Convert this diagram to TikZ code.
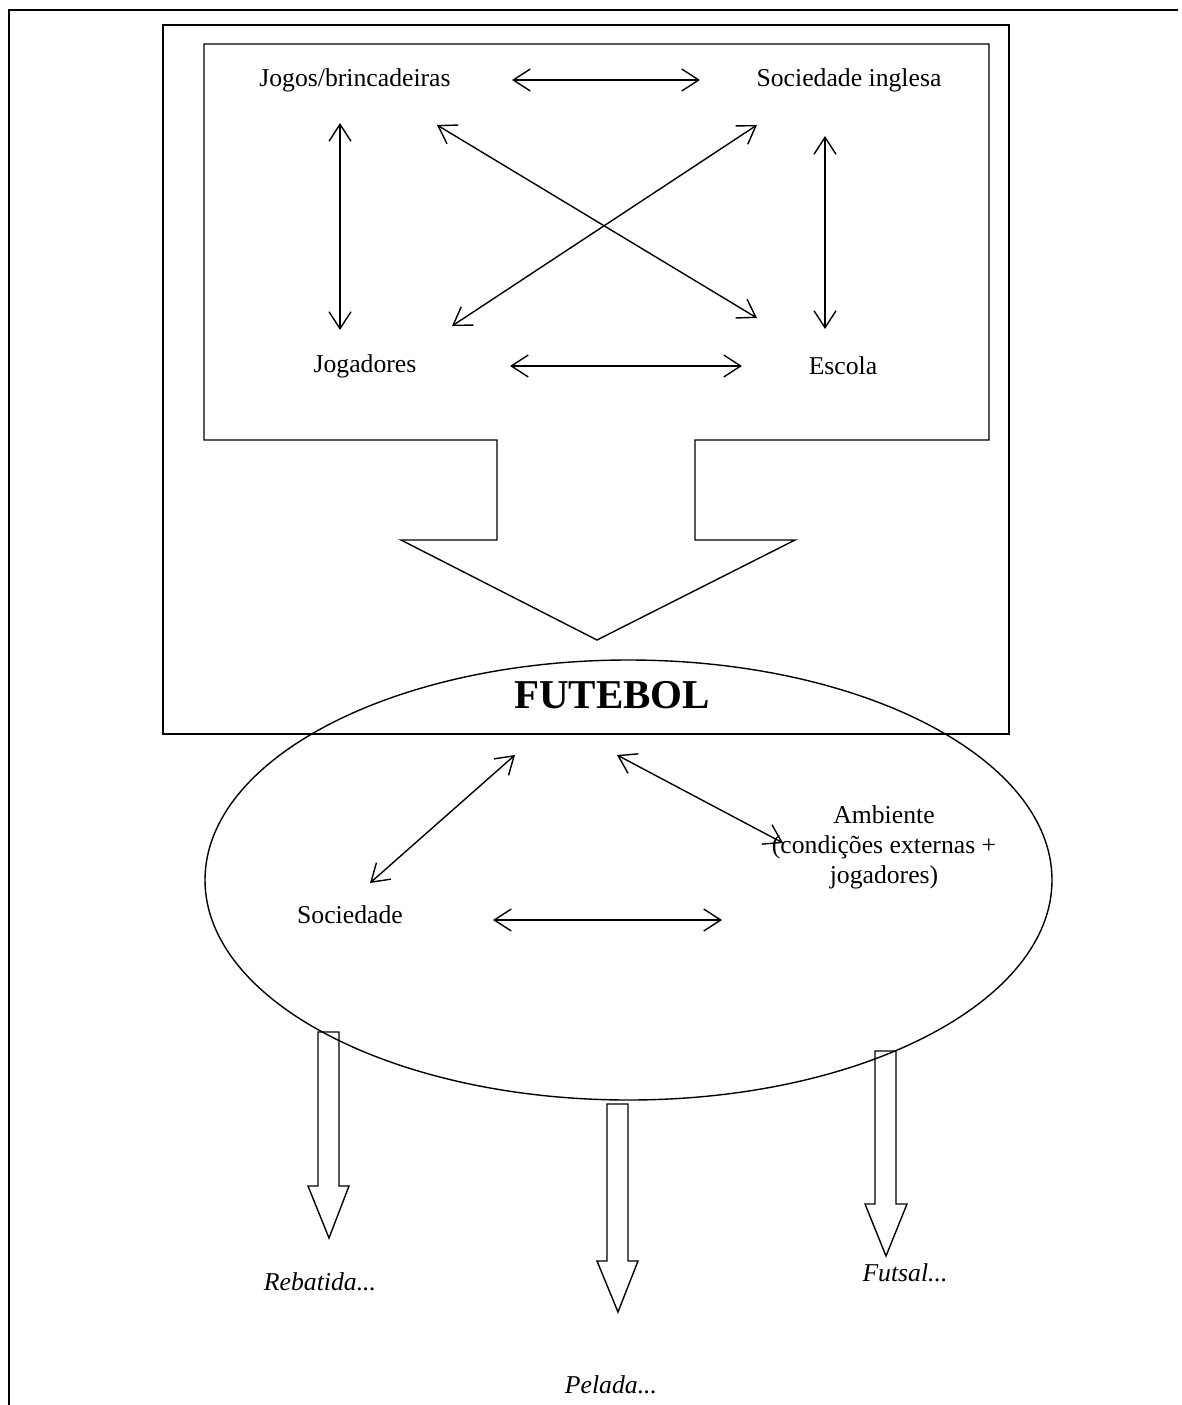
\documentclass[tikz,border=0pt]{standalone}
\usepackage{fontspec}
\setmainfont{Liberation Serif}
\usetikzlibrary{arrows.meta}
\begin{document}
\begin{tikzpicture}[x=1pt,y=-1pt,
  ln/.style={line width=1.4pt},
  dbl/.style={ln,{Straight Barb[length=17pt,width=22pt]}-{Straight Barb[length=17pt,width=22pt]}},
  lbl/.style={font=\fontsize{25.7}{30}\selectfont,inner sep=0pt},
  ilbl/.style={font=\fontsize{25.7}{30}\selectfont\itshape,inner sep=0pt},
  hollow/.style={ln,fill=white,line join=miter}]
\useasboundingbox (0,0) rectangle (1181,1405);
% outer frame (top and left rules)
\draw[line width=2.4pt] (9,1405) -- (9,10) -- (1178,10);
% middle frame
\draw[ln] (163,25) rectangle (1009,734);
% inner box with big arrow
\draw[ln,line join=miter] (204,44) -- (989,44) -- (989,440) -- (695,440) -- (695,540) -- (795,540)
  -- (597,640) -- (401,540) -- (497,540) -- (497,440) -- (204,440) -- cycle;
% texts top
\node[lbl] (jogos) at (355,80) {Jogos/brincadeiras};
\node[lbl] (socing) at (849,80) {Sociedade inglesa};
\node[lbl] (jogad) at (365,366) {Jogadores};
\node[lbl] (escola) at (843,366) {Escola};
% arrow endpoints
\coordinate (a1) at (512,80); \coordinate (b1) at (700,80);
\coordinate (a2) at (340,123); \coordinate (b2) at (340,330);
\coordinate (a3) at (825,136); \coordinate (b3) at (825,329);
\coordinate (a4) at (437,125); \coordinate (b4) at (757,318);
\coordinate (a5) at (757,125); \coordinate (b5) at (452,326);
\coordinate (a6) at (510,366); \coordinate (b6) at (742,366);
\draw[dbl] (a1) -- (b1);
\draw[dbl] (a2) -- (b2);
\draw[dbl] (a3) -- (b3);
\draw[dbl] (a4) -- (b4);
\draw[dbl] (a5) -- (b5);
\draw[dbl] (a6) -- (b6);
% hollow arrows
\draw[hollow] (318,1032) -- (339,1032) -- (339,1186) -- (349,1186) -- (329,1238) -- (308,1186) -- (318,1186) -- cycle;
\draw[hollow] (607,1104) -- (628,1104) -- (628,1261) -- (638,1261) -- (618,1312) -- (597,1261) -- (607,1261) -- cycle;
\draw[hollow] (875,1051) -- (896,1051) -- (896,1204) -- (907,1204) -- (886,1256) -- (865,1204) -- (875,1204) -- cycle;
% ellipse
\draw[ln] (628.5,880) ellipse [x radius=423.5, y radius=220];
\node[font=\fontsize{41}{46}\selectfont\bfseries,inner sep=0pt] (futebol) at (612,695) {FUTEBOL};
\node[lbl,align=center] (ambiente) at (884,847) {Ambiente\\(condições externas +\\jogadores)};
\node[lbl] (socied) at (350,915) {Sociedade};
\coordinate (a7) at (515,755); \coordinate (b7) at (370,883);
\coordinate (a8) at (617,755); \coordinate (b8) at (783,843);
\coordinate (a9) at (493,920); \coordinate (b9) at (722,920);
\draw[dbl] (a7) -- (b7);
\draw[dbl] (a8) -- (b8);
\draw[dbl] (a9) -- (b9);
\node[ilbl] (rebatida) at (320,1282) {Rebatida...};
\node[ilbl] (pelada) at (611,1385) {Pelada...};
\node[ilbl] (futsal) at (905,1273) {Futsal...};
\end{tikzpicture}
\end{document}
